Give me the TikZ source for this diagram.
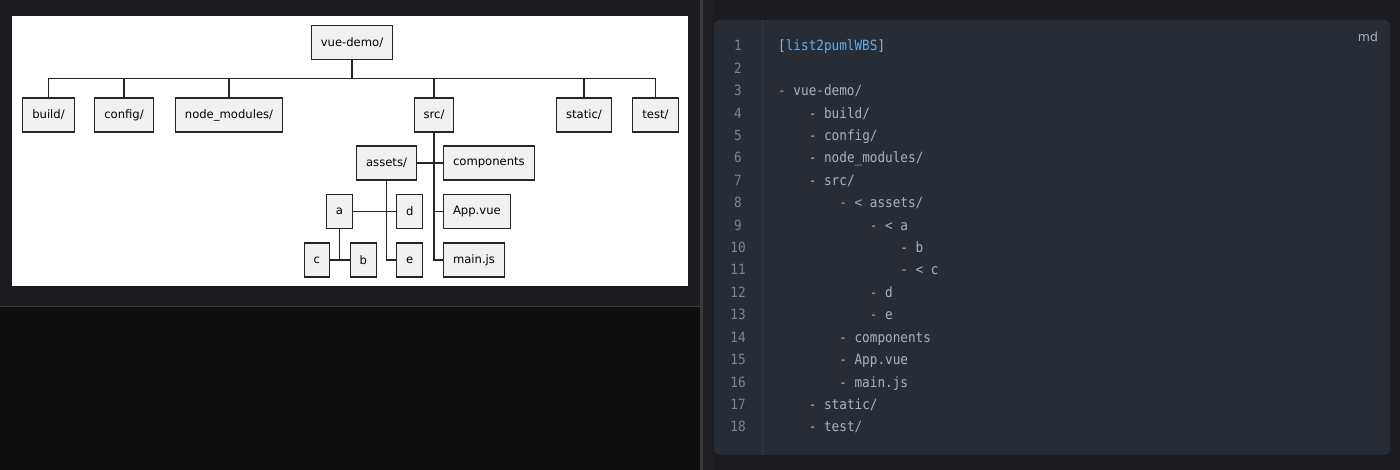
\documentclass[tikz,border=0pt]{standalone}
\usepackage{fontspec}
\setmainfont{DejaVu Sans}
\newfontfamily\codefont[FakeStretch=0.9]{DejaVu Sans Mono}

\definecolor{appbg}{HTML}{1C1B20}
\definecolor{lowbg}{HTML}{0E0E0E}
\definecolor{divgray}{HTML}{3A3A3D}
\definecolor{divdark}{HTML}{202024}
\definecolor{codebg}{HTML}{282C34}
\definecolor{gutline}{HTML}{33373F}
\definecolor{numgray}{HTML}{7F848E}
\definecolor{codefg}{HTML}{ABB2BF}
\definecolor{dashor}{HTML}{E0A050}
\definecolor{dashpale}{HTML}{C4B89A}
\definecolor{linkblue}{HTML}{61AFEF}
\definecolor{boxfill}{HTML}{F1F1F1}
\definecolor{boxline}{HTML}{262626}

\tikzset{
  wbs/.style={draw=boxline, fill=boxfill, line width=1.1pt, minimum height=34pt,
    inner xsep=9.5pt, text=black, font=\fontsize{11.6}{13}\selectfont},
  link/.style={draw=boxline, line width=1.1pt},
  lineno/.style={anchor=base, inner sep=0pt, text=numgray,
    font=\codefont\fontsize{14.1}{16}\selectfont},
  codeln/.style={anchor=base west, inner sep=0pt, text=codefg,
    font=\codefont\fontsize{14.1}{16}\selectfont}
}

\begin{document}
\begin{tikzpicture}[x=1pt,y=-1pt]
    \useasboundingbox (0,0) rectangle (1400,470);
    % window background
    \fill[appbg] (0,0) rectangle (1400,470);
    \fill[lowbg] (0,306) rectangle (700,470);
    \draw[divgray, line width=1.5pt] (0,306.5) -- (700,306.5);
    \fill[divgray] (700,0) rectangle (703,470);
    \fill[divdark] (703,0) rectangle (713,470);
    \fill[white] (12,16) rectangle (688,286);

    % tree
    \node[wbs] (root) at (352,42.5) {vue-demo/};
    \node[wbs] (build) at (48.5,115) {build/};
    \node[wbs] (config) at (124,115) {config/};
    \node[wbs] (nodemod) at (229,115) {node\_modules/};
    \node[wbs] (src) at (434,115) {src/};
    \node[wbs] (static) at (584,115) {static/};
    \node[wbs] (test) at (655.5,115) {test/};
    \node[wbs, anchor=east] (assets) at (417,163) {assets/};
    \node[wbs, anchor=west] (comp) at (443,163) {components};
    \node[wbs, anchor=west] (app) at (443,211.5) {App.vue};
    \node[wbs, anchor=west] (mainjs) at (443,260) {main.js};
    \node[wbs] (a) at (339.5,211.5) {a};
    \node[wbs, anchor=west] (d) at (396,211.5) {d};
    \node[wbs, anchor=west] (e) at (396,260) {e};
    \node[wbs, anchor=east] (c) at (330,260) {c};
    \node[wbs, anchor=west] (b) at (349.5,260) {b};

    \coordinate (bus) at (352,78.7);
    \draw[link] (root.south) -- (bus);
    \foreach \k in {build,config,nodemod,src,static,test}
        \draw[link] (\k.north) |- (bus);
    \draw[link] (src.south) -- (src.south |- mainjs.west) -- (mainjs.west);
    \draw[link] (src.south |- app.west) -- (app.west);
    \draw[link] (assets.east) -- (comp.west);
    \draw[link] (assets.south) |- (e.west);
    \draw[link] (a.east) -- (d.west);
    \draw[link] (a.south) -- (a.south |- c.east);
    \draw[link] (c.east) -- (b.west);

    % code panel
    \fill[codebg, rounded corners=6pt] (714,20) rectangle (1390,455);
    \draw[gutline] (762,20) -- (762,455);
    \node[text=codefg, font=\fontsize{12.5}{14}\selectfont] (lang) at (1368,37) {md};
    \foreach \i in {1,...,18}
        \node[lineno] (ln\i) at (738,{51+22.4*(\i-1)}) {\i};

    \node[codeln] (l1) at (778,51) {[\textcolor{linkblue}{list2pumlWBS}]};
    \node[codeln] (l3) at (778,95.8) {\textcolor{dashor}{-} vue-demo/};
    \node[codeln] (l4) at (808.6,118.2) {\textcolor{dashpale}{-} build/};
    \node[codeln] (l5) at (808.6,140.6) {\textcolor{dashpale}{-} config/};
    \node[codeln] (l6) at (808.6,163) {\textcolor{dashpale}{-} node\_modules/};
    \node[codeln] (l7) at (808.6,185.4) {\textcolor{dashpale}{-} src/};
    \node[codeln] (l8) at (839.1,207.8) {\textcolor{dashor}{-} < assets/};
    \node[codeln] (l9) at (869.7,230.2) {\textcolor{dashor}{-} < a};
    \node[codeln] (l10) at (900.2,252.6) {\textcolor{dashpale}{-} b};
    \node[codeln] (l11) at (900.2,275) {\textcolor{dashpale}{-} < c};
    \node[codeln] (l12) at (869.7,297.4) {\textcolor{dashor}{-} d};
    \node[codeln] (l13) at (869.7,319.8) {\textcolor{dashor}{-} e};
    \node[codeln] (l14) at (839.1,342.2) {\textcolor{dashpale}{-} components};
    \node[codeln] (l15) at (839.1,364.6) {\textcolor{dashpale}{-} App.vue};
    \node[codeln] (l16) at (839.1,387) {\textcolor{dashpale}{-} main.js};
    \node[codeln] (l17) at (808.6,409.4) {\textcolor{dashpale}{-} static/};
    \node[codeln] (l18) at (808.6,431.8) {\textcolor{dashpale}{-} test/};
\end{tikzpicture}
\end{document}
